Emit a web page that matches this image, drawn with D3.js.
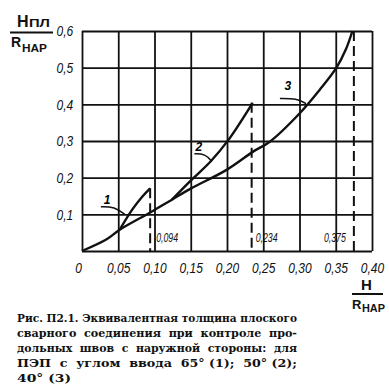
<!DOCTYPE html>
<html>
<head>
<meta charset="utf-8">
<script src="https://cdn.jsdelivr.net/npm/d3@7"></script>
<style>
body { margin: 0; background: #fff; }
svg { display: block; }
.tick text { font-family: "Liberation Sans", Arial, sans-serif; font-style: italic; font-size: 15px; fill: #111; }
.bold { font-family: "Liberation Sans", Arial, sans-serif; font-weight: bold; fill: #111; }
.caption { font-family: "DejaVu Serif", serif; font-weight: bold; font-size: 11px; fill: #111; }
.note { font-family: "Liberation Sans", Arial, sans-serif; font-style: italic; font-size: 12px; fill: #111; }
</style>
</head>
<body>
<svg></svg>
<script>
// tick values
var xTicks = [0, 0.05, 0.10, 0.15, 0.20, 0.25, 0.30, 0.35, 0.40]
var yTicks = [0, 0.1, 0.2, 0.3, 0.4, 0.5, 0.6]

// curve 3 (40 deg)
var curve3X = [0, 0.034, 0.052, 0.094, 0.124, 0.15, 0.20, 0.236, 0.259, 0.30, 0.328, 0.351, 0.364, 0.373]
var curve3Y = [0, 0.032, 0.058, 0.105, 0.140, 0.170, 0.222, 0.271, 0.298, 0.375, 0.440, 0.500, 0.550, 0.600]
// curve 2 (50 deg)
var curve2X = [0.124, 0.151, 0.177, 0.202, 0.2354]
var curve2Y = [0.140, 0.194, 0.2435, 0.303, 0.404]
// curve 1 (65 deg)
var curve1X = [0.052, 0.069, 0.083, 0.094]
var curve1Y = [0.058, 0.112, 0.148, 0.171]

// limit lines
var limitX = [0.094, 0.234, 0.375]
var limitTop = [0.171, 0.404, 0.600]
var limitLabels = ["0,094", "0,234", "0,375"]

var curveNames = ["1", "2", "3"]

var captionLines = [
    "Рис. П2.1. Эквивалентная толщина плоского",
    "сварного  соединения  при  контроле  про-",
    "дольных  швов  с  наружной  стороны:  для",
    "ПЭП  с  углом  ввода  65° (1);  50° (2);",
    "40° (3)"
]

var screen = { width: 389, height: 392 }
var margins = { left: 82, top: 31, right: 17, bottom: 141 }
var graph = {
    width: screen.width - margins.left - margins.right,
    height: screen.height - margins.top - margins.bottom
}

var svg = d3.select("svg")
    .attr("width", screen.width)
    .attr("height", screen.height)

var xScale = d3.scaleLinear().domain([0, 0.40]).range([0, graph.width])
var yScale = d3.scaleLinear().domain([0, 0.6]).range([graph.height, 0])

var fmt = function (d) {
    if (d == 0) return "0"
    return d3.format(".2f")(d).replace(".", ",")
}

var target = svg.append("g")
    .attr("transform", "translate(" + margins.left + "," + margins.top + ")")

// grid + axes
var xAxis = d3.axisBottom(xScale)
    .tickValues(xTicks)
    .tickSize(-graph.height)
    .tickPadding(11)
    .tickFormat(fmt)
var yAxis = d3.axisLeft(yScale)
    .tickValues(yTicks)
    .tickSize(-graph.width)
    .tickPadding(11)
    .tickFormat(function (d) { return d == 0 ? "" : d3.format(".1f")(d).replace(".", ",") })

var gx = target.append("g")
    .attr("transform", "translate(0," + graph.height + ")")
    .call(xAxis)
var gy = target.append("g").call(yAxis)

target.selectAll(".domain").remove()
target.selectAll(".tick line")
    .attr("stroke", "#111")
    .attr("stroke-width", 1.8)
// narrow, tall hand lettering
target.selectAll(".tick text").attr("transform", "scale(0.8,1)")
gx.selectAll(".tick text").attr("dx", function (d) { return d == 0 ? -5 : 0 })

// curves
var line = d3.line()
    .x(function (d) { return xScale(d[0]) })
    .y(function (d) { return yScale(d[1]) })
    .curve(d3.curveCatmullRom)

var zip = function (xs, ys) {
    return xs.map(function (x, i) { return [x, ys[i]] })
}

var curves = [zip(curve1X, curve1Y), zip(curve2X, curve2Y), zip(curve3X, curve3Y)]

target.selectAll(".curve")
    .data(curves)
    .enter()
    .append("path")
    .classed("curve", true)
    .attr("d", line)
    .attr("fill", "none")
    .attr("stroke", "#111")
    .attr("stroke-width", 2.4)
    .attr("stroke-linejoin", "round")

// dashed limit lines
target.selectAll(".limit")
    .data(limitX)
    .enter()
    .append("line")
    .classed("limit", true)
    .attr("x1", function (d) { return xScale(d) })
    .attr("x2", function (d) { return xScale(d) })
    .attr("y1", function (d, i) { return yScale(limitTop[i]) })
    .attr("y2", yScale(0))
    .attr("stroke", "#111")
    .attr("stroke-width", 2)
    .attr("stroke-dasharray", "10,5")

var noteShift = [6, 4, -8]
target.selectAll(".note")
    .data(limitLabels)
    .enter()
    .append("text")
    .classed("note", true)
    .attr("x", function (d, i) { return xScale(limitX[i]) + noteShift[i] })
    .attr("y", yScale(0) - 9)
    .attr("text-anchor", function (d, i) { return i == 2 ? "end" : "start" })
    .attr("textLength", 22)
    .attr("lengthAdjust", "spacingAndGlyphs")
    .text(function (d) { return d })

// curve numbers with leaders
var labelPos = [[0.0345, 0.128], [0.161, 0.272], [0.284, 0.438]]
var leaders = [
    [[0.026, 0.121], [0.045, 0.121], [0.059, 0.100]],
    [[0.155, 0.265], [0.170, 0.265], [0.179, 0.244]],
    [[0.273, 0.416], [0.296, 0.416], [0.309, 0.402]]
]
var leaderLine = d3.line()
    .x(function (d) { return xScale(d[0]) })
    .y(function (d) { return yScale(d[1]) })
    .curve(d3.curveBasis)

target.selectAll(".leader")
    .data(leaders)
    .enter()
    .append("path")
    .attr("d", leaderLine)
    .attr("fill", "none")
    .attr("stroke", "#111")
    .attr("stroke-width", 1.5)

target.selectAll(".num")
    .data(curveNames)
    .enter()
    .append("text")
    .attr("x", function (d, i) { return xScale(labelPos[i][0]) })
    .attr("y", function (d, i) { return yScale(labelPos[i][1]) })
    .attr("text-anchor", "middle")
    .style("font-family", "Liberation Sans, Arial, sans-serif")
    .style("font-style", "italic")
    .style("font-size", "12px")
    .style("font-weight", "bold")
    .text(function (d) { return d })

// y axis label
var addText = function (txt, x, y, size, len) {
    var t = svg.append("text")
        .classed("bold", true)
        .attr("x", x)
        .attr("y", y)
        .style("font-size", size + "px")
        .text(txt)
    if (len) t.attr("textLength", len).attr("lengthAdjust", "spacingAndGlyphs")
    return t
}
addText("H", 17, 27, 16)
addText("ПЛ", 29, 27, 10, 21)
svg.append("line").attr("x1", 10).attr("x2", 53).attr("y1", 32.5).attr("y2", 32.5)
    .attr("stroke", "#111").attr("stroke-width", 2)
addText("R", 11, 47, 14)
addText("НАР", 22, 52, 11, 25)

// x axis label
addText("H", 361, 290, 15)
svg.append("line").attr("x1", 352).attr("x2", 383).attr("y1", 294).attr("y2", 294)
    .attr("stroke", "#111").attr("stroke-width", 2)
addText("R", 352, 309, 13)
addText("НАР", 362, 312, 10, 23)

// caption
var baselines = [322, 337, 352, 367, 382]
var lineWidths = [280, 280, 280, 280, 54]
svg.selectAll(".caption")
    .data(captionLines)
    .enter()
    .append("text")
    .classed("caption", true)
    .attr("x", 17)
    .attr("y", function (d, i) { return baselines[i] })
    .attr("textLength", function (d, i) { return lineWidths[i] })
    .attr("lengthAdjust", "spacingAndGlyphs")
    .style("white-space", "pre")
    .text(function (d) { return d })
</script>
</body>
</html>
